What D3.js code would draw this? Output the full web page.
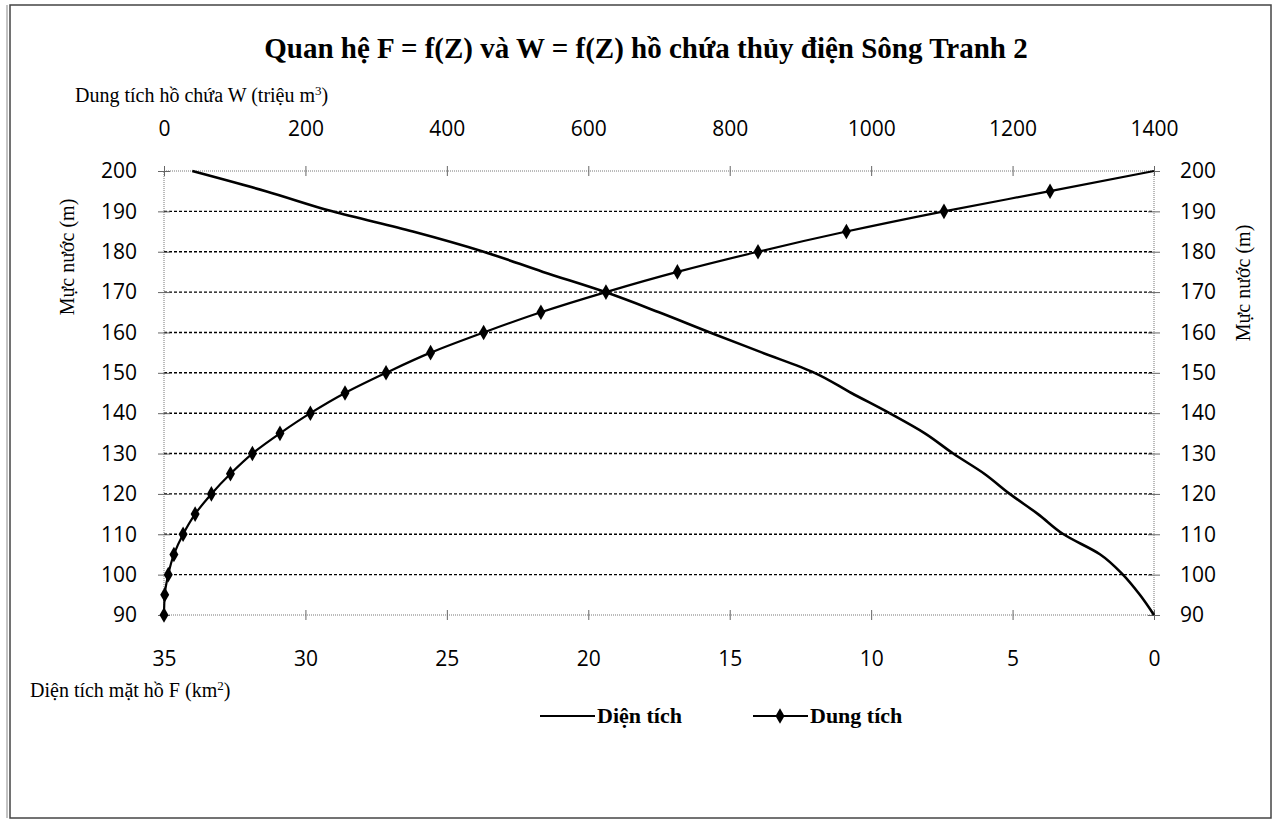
<!DOCTYPE html>
<html>
<head>
<meta charset="utf-8">
<script src="https://cdn.jsdelivr.net/npm/d3@7"></script>
<style>
  body { margin: 0; background: #fff; }
  .tick text { font-family: "Open Sans", sans-serif; font-size: 21px; fill: #000; }
  .lbl { font-family: "Liberation Serif", "Times New Roman", serif; fill: #000; }
</style>
</head>
<body>
<div id="viz"></div>
<script>
// muc nuoc Z (m)
var levels = [90, 95, 100, 105, 110, 115, 120, 125, 130, 135, 140, 145, 150, 155, 160, 165, 170, 175, 180, 185, 190, 195, 200];
// dien tich mat ho F (km2)
var areaF = [0, 0.5, 1.1, 1.9, 3.2, 4.1, 5.1, 6.0, 7.1, 8.1, 9.35, 10.7, 12.0, 13.85, 15.7, 17.5, 19.4, 21.6, 23.7, 26.2, 29.05, 31.4, 34.0];
// dung tich ho chua W (trieu m3)
var volumeW = [0, 1, 6, 14, 27, 44, 67, 94, 125, 164, 207, 256, 314, 377, 452, 533, 625, 726, 840, 965, 1103, 1253, 1400];

var zTicks = [90, 100, 110, 120, 130, 140, 150, 160, 170, 180, 190, 200];
var wTicks = [0, 200, 400, 600, 800, 1000, 1200, 1400];
var fTicks = [35, 30, 25, 20, 15, 10, 5, 0];
var legendNames = ["Diện tích", "Dung tích"];

var width = 1275, height = 822;
var svg = d3.select("#viz").append("svg").attr("width", width).attr("height", height);

// khung ngoai
svg.append("rect").attr("x", 10).attr("y", 5).attr("width", 1261).attr("height", 813)
  .attr("fill", "none").attr("stroke", "#444").attr("stroke-width", 1.5);
svg.append("line").attr("x1", 7).attr("x2", 7).attr("y1", 5).attr("y2", 818)
  .attr("stroke", "#888").attr("stroke-width", 1);

var y = d3.scaleLinear().domain([90, 200]).range([615, 171]);
var xW = d3.scaleLinear().domain([0, 1400]).range([164, 1154]);
var xF = d3.scaleLinear().domain([35, 0]).range([164, 1154]);

// luoi ngang
svg.append("g").selectAll("line").data(zTicks.filter(function(d){ return d > 90 && d < 200; }))
  .enter().append("line")
  .attr("x1", xW(0)).attr("x2", xW(1400))
  .attr("y1", function(d){ return y(d); }).attr("y2", function(d){ return y(d); })
  .attr("stroke", "#000").attr("stroke-width", 1.4).attr("stroke-dasharray", "3,2");

// khung vung ve (cham)
svg.append("rect").attr("x", xW(0)).attr("y", y(200)).attr("width", xW(1400) - xW(0)).attr("height", y(90) - y(200))
  .attr("fill", "none").attr("stroke", "#777").attr("stroke-width", 1).attr("stroke-dasharray", "1,1");

function crossTicks(g, horiz) {
  g.select(".domain").remove();
  g.selectAll(".tick line").attr("stroke", "#666").attr("stroke-width", 1);
  if (horiz) g.selectAll(".tick line").attr("y1", -5).attr("y2", 5);
  else g.selectAll(".tick line").attr("x1", -6).attr("x2", 6);
}

var fmt = d3.format("d");
svg.append("g").attr("transform", "translate(" + xW(0) + ",0)")
  .call(d3.axisLeft(y).tickValues(zTicks).tickSize(6).tickPadding(21))
  .call(function(g){ crossTicks(g, false); });
svg.append("g").attr("transform", "translate(" + xW(1400) + ",0)")
  .call(d3.axisRight(y).tickValues(zTicks).tickSize(6).tickPadding(20))
  .call(function(g){ crossTicks(g, false); });
svg.append("g").attr("transform", "translate(0," + y(200) + ")")
  .call(d3.axisTop(xW).tickValues(wTicks).tickFormat(fmt).tickSize(5).tickPadding(30))
  .call(function(g){ crossTicks(g, true); });
svg.append("g").attr("transform", "translate(0," + y(90) + ")")
  .call(d3.axisBottom(xF).tickValues(fTicks).tickFormat(fmt).tickSize(5).tickPadding(31))
  .call(function(g){ crossTicks(g, true); });

// duong dien tich
var lineF = d3.line().x(function(d, i){ return xF(areaF[i]); }).y(function(d){ return y(d); })
  .curve(d3.curveMonotoneY);
svg.append("path").datum(levels).attr("d", lineF)
  .attr("fill", "none").attr("stroke", "#000").attr("stroke-width", 2.6);

// duong dung tich
var lineW = d3.line().x(function(d, i){ return xW(volumeW[i]); }).y(function(d){ return y(d); })
  .curve(d3.curveMonotoneY);
svg.append("path").datum(levels).attr("d", lineW)
  .attr("fill", "none").attr("stroke", "#000").attr("stroke-width", 2.2);

var diamond = d3.symbol().type(d3.symbolDiamond).size(70);
svg.append("g").selectAll("path").data(levels.slice(0, levels.length - 1)).enter().append("path")
  .attr("d", diamond)
  .attr("transform", function(d, i){ return "translate(" + xW(volumeW[i]) + "," + y(d) + ")"; })
  .attr("fill", "#000");

// chu
svg.append("text").attr("class", "lbl").attr("x", 646).attr("y", 58).attr("text-anchor", "middle")
  .style("font-size", "29px").style("font-weight", "bold")
  .text("Quan hệ F = f(Z) và W = f(Z) hồ chứa thủy điện Sông Tranh 2");

var t1 = svg.append("text").attr("class", "lbl").attr("x", 75).attr("y", 102).style("font-size", "20px")
  .text("Dung tích hồ chứa W (triệu m");
t1.append("tspan").attr("dy", -7).style("font-size", "13px").text("3");
t1.append("tspan").attr("dy", 7).text(")");

var t2 = svg.append("text").attr("class", "lbl").attr("x", 30).attr("y", 697).style("font-size", "20px")
  .text("Diện tích mặt hồ F (km");
t2.append("tspan").attr("dy", -7).style("font-size", "13px").text("2");
t2.append("tspan").attr("dy", 7).text(")");

svg.append("text").attr("class", "lbl").attr("transform", "translate(74,257) rotate(-90)")
  .attr("text-anchor", "middle").style("font-size", "20px").text("Mực nước (m)");
svg.append("text").attr("class", "lbl").attr("transform", "translate(1250,283) rotate(-90)")
  .attr("text-anchor", "middle").style("font-size", "20px").text("Mực nước (m)");

// chu giai
var legend = svg.append("g").selectAll("g").data(legendNames).enter().append("g")
  .attr("transform", function(d, i){ return "translate(" + (540 + i * 213) + ",716)"; });
legend.append("line").attr("x1", 0).attr("x2", 55).attr("stroke", "#000").attr("stroke-width", 2);
legend.filter(function(d, i){ return i == 1; }).append("path").attr("d", diamond)
  .attr("transform", "translate(27,0)").attr("fill", "#000");
legend.append("text").attr("class", "lbl").attr("x", 57).attr("y", 7)
  .style("font-size", "22px").style("font-weight", "bold").text(function(d){ return d; });
</script>
</body>
</html>
